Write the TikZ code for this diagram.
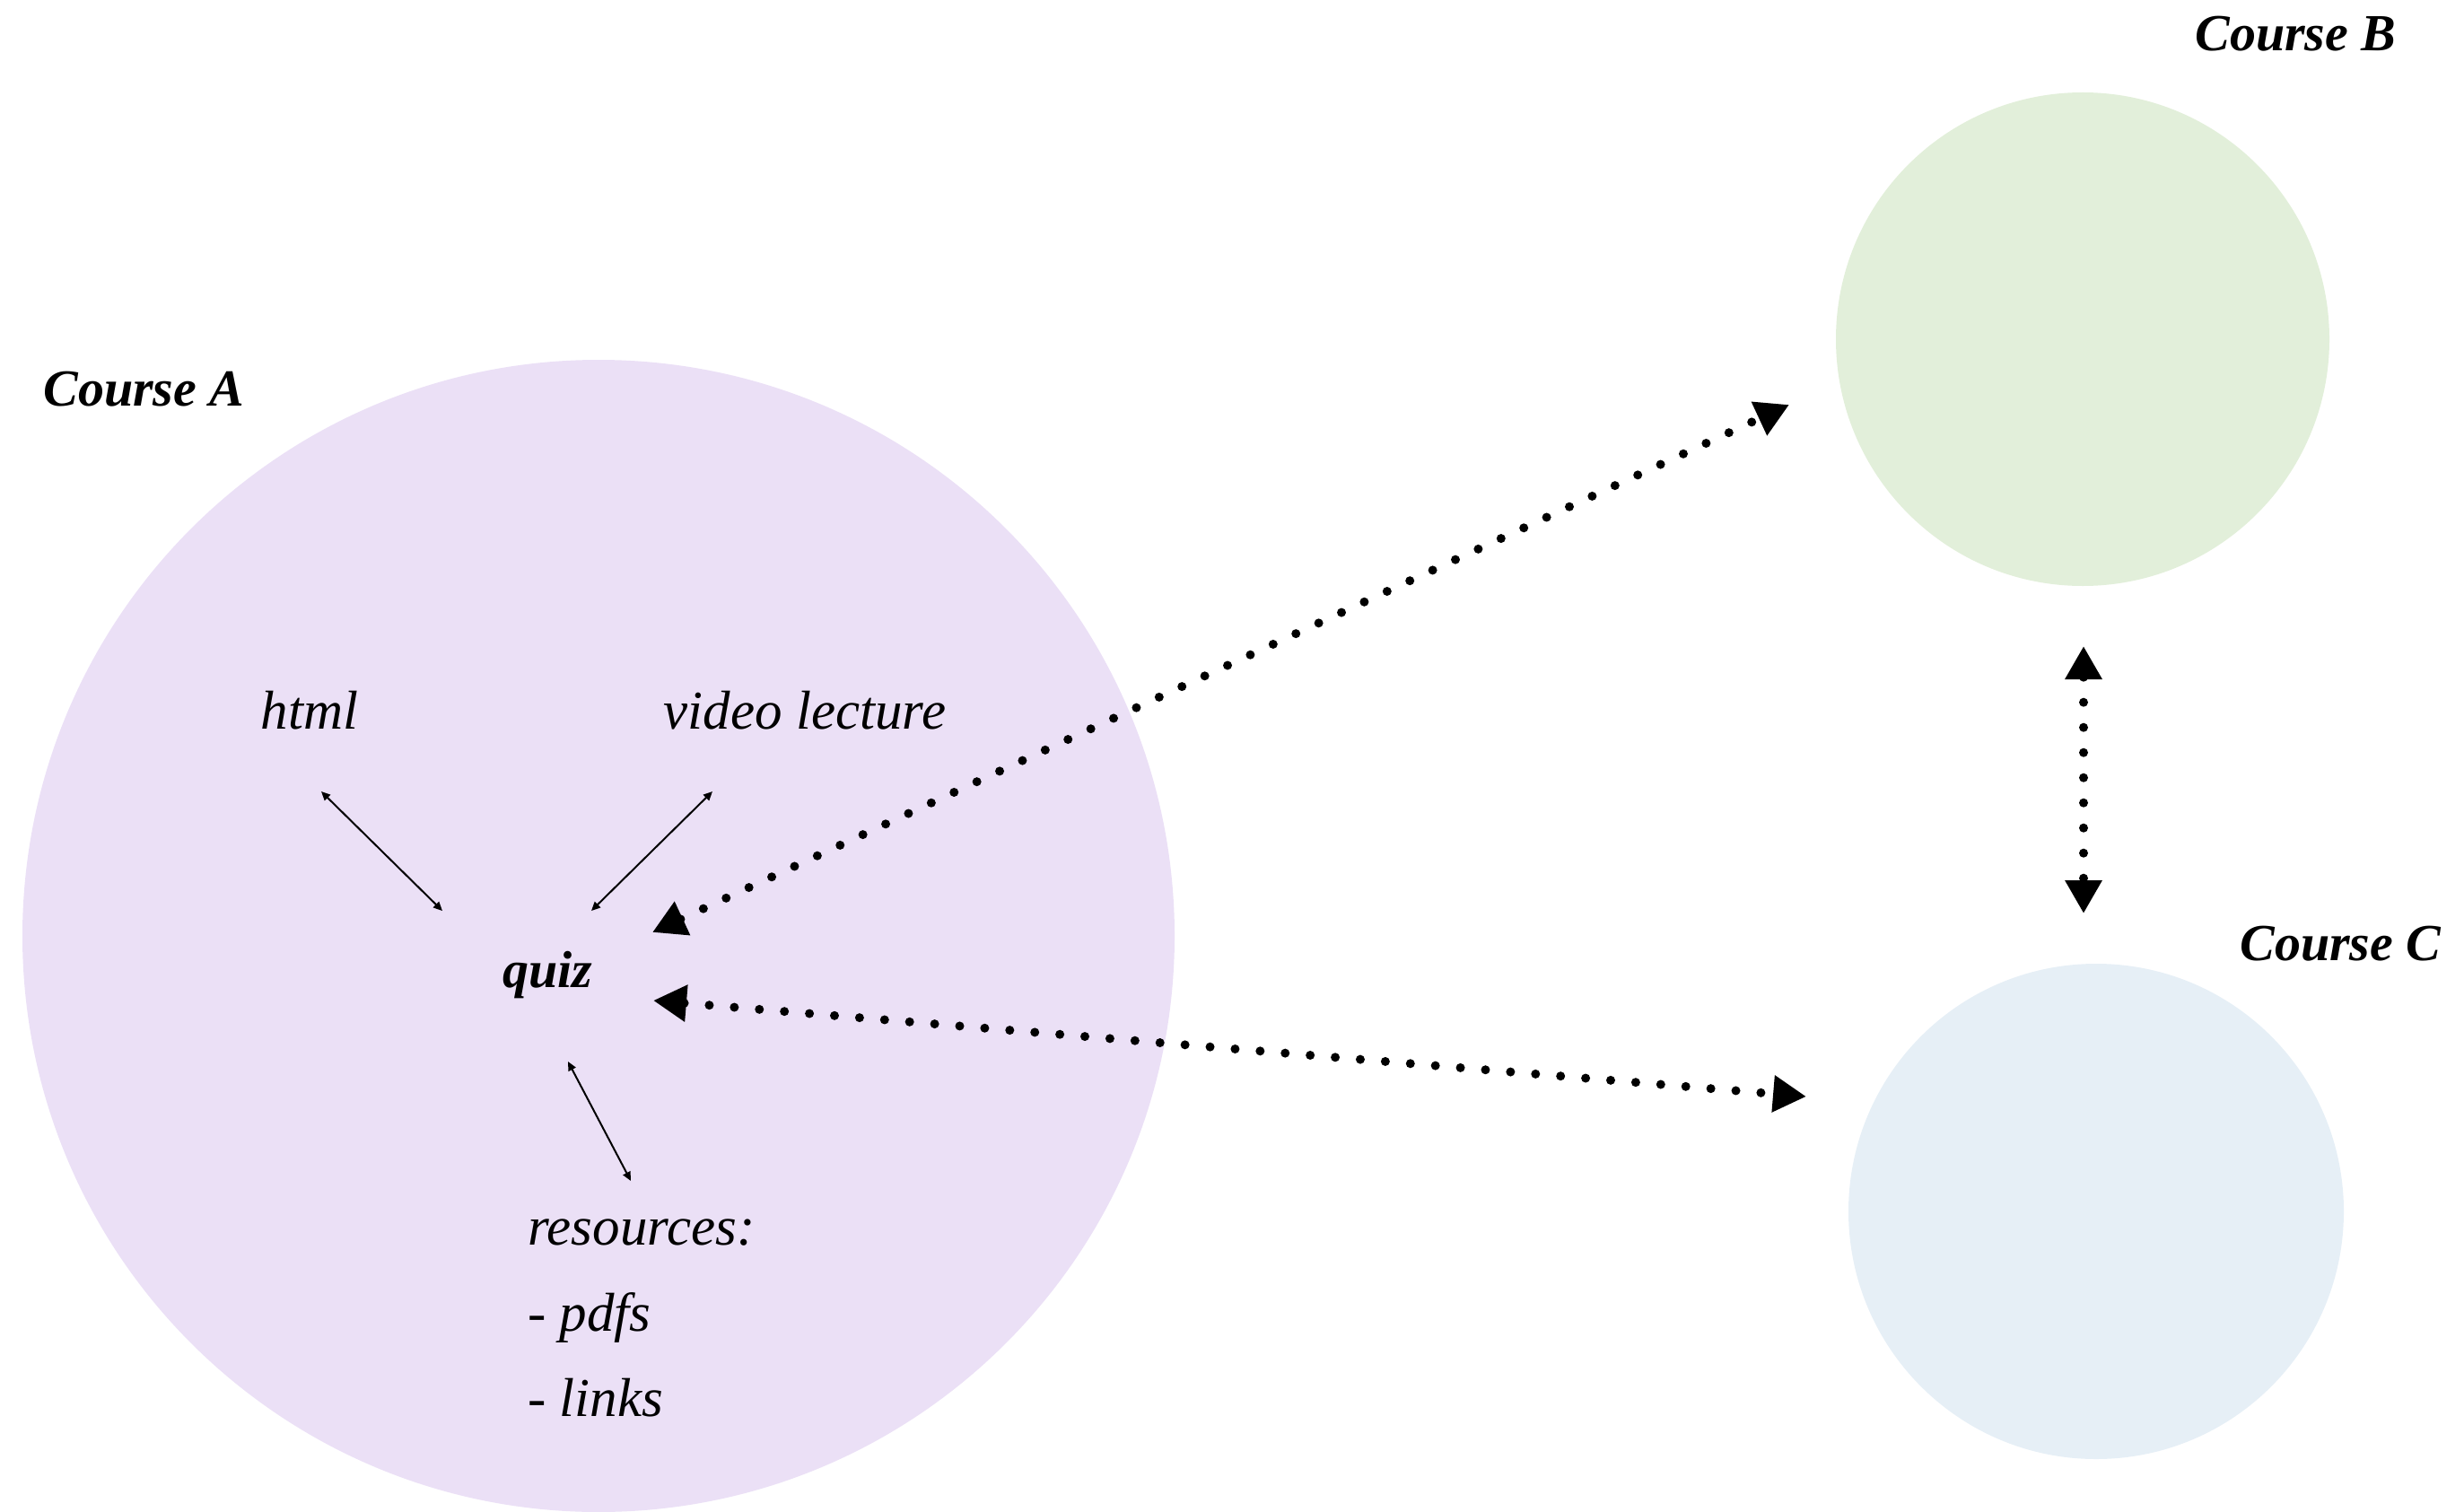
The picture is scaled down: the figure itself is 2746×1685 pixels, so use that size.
\documentclass[tikz,border=0pt]{standalone}
\usepackage{fontspec}
\setmainfont{Liberation Serif}
\usetikzlibrary{arrows.meta}
\definecolor{courseA}{RGB}{235,224,246}
\definecolor{courseB}{RGB}{226,239,218}
\definecolor{courseC}{RGB}{230,239,246}
\begin{document}
\begin{tikzpicture}[x=0.5pt,y=-0.5pt,
  coursecircle/.style={circle, inner sep=0pt, draw=none},
  lbl/.style={inner sep=0pt, font=\fontsize{30.5}{36}\selectfont\itshape},
  qlbl/.style={inner sep=0pt, font=\fontsize{29}{35}\selectfont\bfseries\itshape},
  ttl/.style={inner sep=0pt, font=\fontsize{29}{35}\selectfont\bfseries\itshape},
  thinarrow/.style={line width=1pt, {Triangle[length=5pt,width=4.5pt]}-{Triangle[length=5pt,width=4.5pt]}},
  dotarrow/.style={line width=5pt, line cap=round, dash pattern=on 0pt off 14pt,
    {Triangle[length=18.5pt,width=19.5pt]}-{Triangle[length=18.5pt,width=19.5pt]}}]
\useasboundingbox (0,0) rectangle (2746,1685);
% course circles
\node[coursecircle, fill=courseA, minimum size=642pt] (A) at (667,1043) {};
\node[coursecircle, fill=courseB, minimum size=275pt] (B) at (2321,378) {};
\node[coursecircle, fill=courseC, minimum size=276pt] (C) at (2336,1350) {};
% titles
\node[ttl, anchor=base west] (tA) at (48,452) {Course A};
\node[ttl, anchor=base west] (tB) at (2446,57) {Course B};
\node[ttl, anchor=base west] (tC) at (2496,1070) {Course C};
% inner labels
\node[lbl, anchor=base] (html) at (345,812) {html};
\node[lbl, anchor=base] (video) at (897,812) {video lecture};
\node[qlbl, anchor=base west] (quiz) at (560,1100) {quiz};
\node[lbl, anchor=base west] (res) at (588,1387) {resources:};
\node[lbl, anchor=base west] (pdfs) at (588,1483) {- pdfs};
\node[lbl, anchor=base west] (links) at (588,1578) {- links};
% connector end points
\coordinate (h1) at (358,882);
\coordinate (h2) at (493,1015);
\coordinate (v1) at (794,882);
\coordinate (v2) at (659,1015);
\coordinate (r1) at (633,1183);
\coordinate (r2) at (703,1316);
\coordinate (qB) at (727,1039);
\coordinate (Bq) at (1994,451);
\coordinate (qC) at (728,1115);
\coordinate (Cq) at (2013,1222);
\coordinate (Bc) at (2322,720);
\coordinate (Cb) at (2322,1018);
% thin connectors
\draw[thinarrow] (h1) -- (h2);
\draw[thinarrow] (v1) -- (v2);
\draw[thinarrow] (r1) -- (r2);
% dotted connectors
\draw[dotarrow] (qB) -- (Bq);
\draw[dotarrow] (qC) -- (Cq);
\draw[dotarrow] (Bc) -- (Cb);
\end{tikzpicture}
\end{document}
